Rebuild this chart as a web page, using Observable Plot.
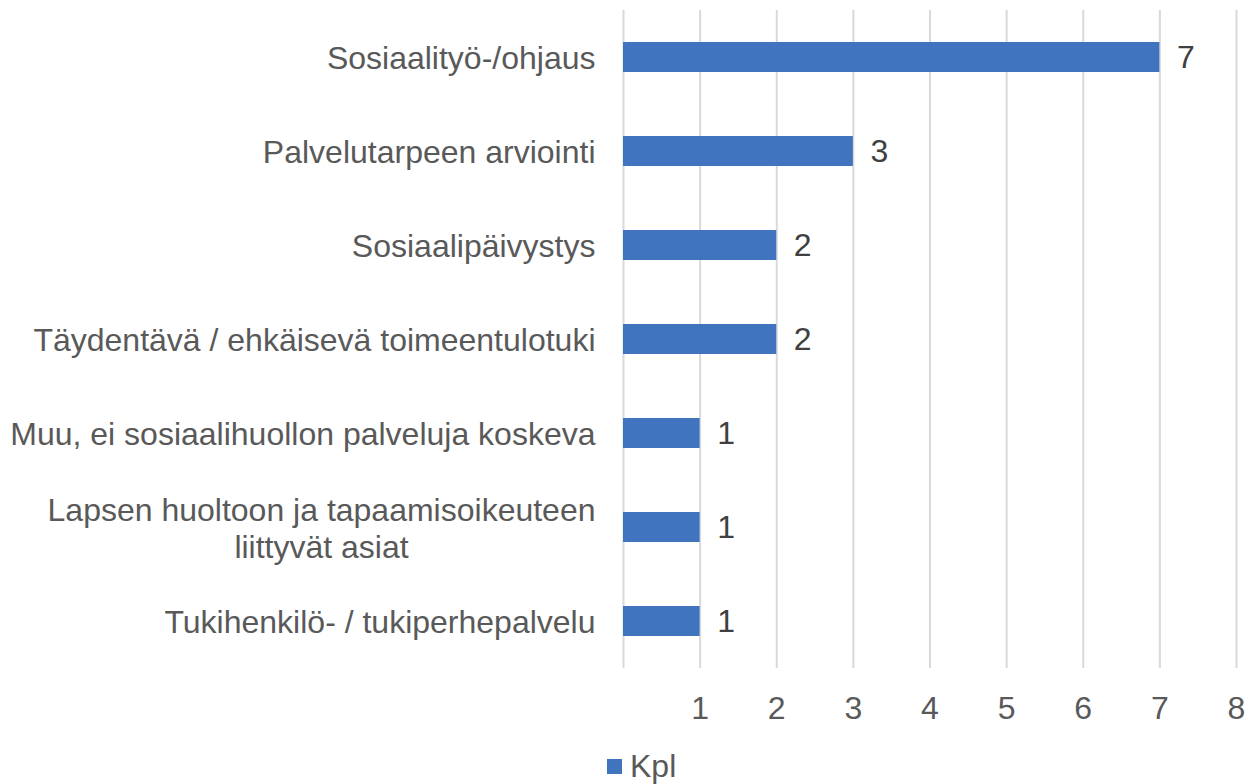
<!DOCTYPE html>
<html>
<head>
<meta charset="utf-8">
<script src="https://cdn.jsdelivr.net/npm/d3@7"></script>
<script src="https://cdn.jsdelivr.net/npm/@observablehq/plot@0.6"></script>
<style>
  html, body { margin: 0; padding: 0; background: #fff; }
  #wrap { position: relative; width: 1250px; height: 784px; font-family: "Liberation Sans", Arial, sans-serif; }
  #legend { position: absolute; left: 607px; top: 748px; display: flex; align-items: center; font-size: 32px; color: #595959; }
  #legend .sw { width: 15px; height: 15px; background: #4174BE; margin-right: 8px; }
</style>
</head>
<body>
<div id="wrap"><div id="chart"></div><div id="legend"><span class="sw"></span><span>Kpl</span></div></div>
<script>
const categories = [
  "Sosiaalityö-/ohjaus",
  "Palvelutarpeen arviointi",
  "Sosiaalipäivystys",
  "Täydentävä / ehkäisevä toimeentulotuki",
  "Muu, ei sosiaalihuollon palveluja koskeva",
  "Lapsen huoltoon ja tapaamisoikeuteen\nliittyvät asiat",
  "Tukihenkilö- / tukiperhepalvelu"
];
const values = [7, 3, 2, 2, 1, 1, 1];
const xTicks = [1, 2, 3, 4, 5, 6, 7, 8];
const gridTicks = [0, 1, 2, 3, 4, 5, 6, 7, 8];
const seriesName = "Kpl";

const data = categories.map((c, i) => ({category: c, value: values[i]}));
const barColor = "#4174BE";

const chart = Plot.plot({
  width: 1250,
  height: 740,
  marginLeft: 623,
  marginRight: 14,
  marginTop: 10,
  marginBottom: 72,
  style: {fontFamily: "'Liberation Sans', Arial, sans-serif", fontSize: "32px", color: "#595959", background: "#fff"},
  x: {domain: [0, 8]},
  y: {domain: categories, paddingInner: 0.68, paddingOuter: 0.34},
  marks: [
    Plot.gridX(gridTicks, {stroke: "#D9D9D9", strokeOpacity: 1, strokeWidth: 2}),
    Plot.barX(data, {x: "value", y: "category", fill: barColor}),
    Plot.text(data, {x: "value", y: "category", text: d => String(d.value), textAnchor: "start", dx: 17, fill: "#404040", fontSize: 32}),
    Plot.axisX(xTicks, {tickSize: 0, tickPadding: 28, fontSize: 32, fill: "#595959", label: null}),
    Plot.axisY({tickSize: 0, tickPadding: 28, fontSize: 32, fill: "#595959", label: null, lineHeight: 1.16})
  ]
});
document.getElementById("chart").appendChild(chart);

// center multi-line category labels like the original
chart.querySelectorAll("text").forEach(t => {
  const spans = t.querySelectorAll("tspan");
  if (spans.length > 1) {
    let w = 0;
    spans.forEach(s => { w = Math.max(w, s.getComputedTextLength()); });
    t.setAttribute("text-anchor", "middle");
    spans.forEach(s => s.setAttribute("text-anchor", "middle"));
    const tr = t.getAttribute("transform") || "";
    t.setAttribute("transform", tr + ` translate(${-w / 2},0)`);
  }
});
</script>
</body>
</html>
